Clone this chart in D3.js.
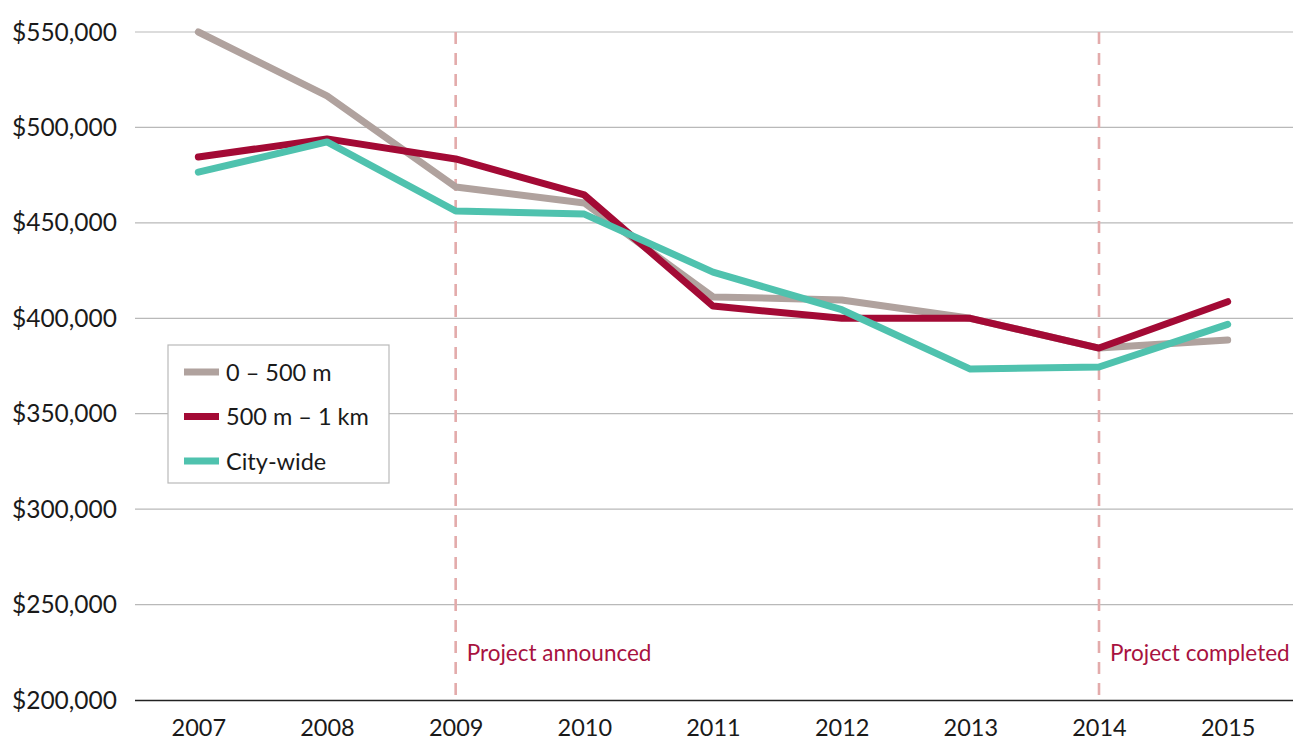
<!DOCTYPE html>
<html>
<head>
<meta charset="utf-8">
<script src="https://cdn.jsdelivr.net/npm/d3@7"></script>
<style>
  html, body { margin: 0; padding: 0; background: #fff; }
  svg { display: block; font-family: Lato, "Noto Sans", sans-serif; }
</style>
</head>
<body>
<svg id="chart" width="1293" height="742"></svg>
<script>
// Median house price by distance from the project, 2007–2015
const years = [2007, 2008, 2009, 2010, 2011, 2012, 2013, 2014, 2015];
const near = [550000, 516500, 468800, 460400, 411200, 409600, 400000, 384400, 388600];
const mid = [484500, 494000, 483500, 464600, 406400, 400000, 400000, 384400, 408700];
const city = [476600, 492400, 456200, 454600, 424200, 404500, 373400, 374500, 396800];
const seriesNames = ["0 – 500 m", "500 m – 1 km", "City-wide"];
const seriesColors = ["#b0a29e", "#a30a35", "#4fc2ae"];
const yTicks = [200000, 250000, 300000, 350000, 400000, 450000, 500000, 550000];
const events = [{ year: 2009, label: "Project announced" }, { year: 2014, label: "Project completed" }];

const series = [near, mid, city].map((vals, i) => ({
  name: seriesNames[i], color: seriesColors[i],
  points: years.map((y, j) => ({ year: y, value: vals[j] }))
}));

const svg = d3.select("#chart");
const plotLeft = 135, plotRight = 1293, plotTop = 32, plotBottom = 700;
const fontSize = 23.5;

const x = d3.scalePoint().domain(years).range([plotLeft - 1, plotRight - 1]).padding(0.5);
const y = d3.scaleLinear().domain([200000, 550000]).range([plotBottom, plotTop]);

// horizontal gridlines
svg.append("g").selectAll("line").data(yTicks.slice(1)).join("line")
  .attr("x1", plotLeft).attr("x2", plotRight)
  .attr("y1", d => y(d)).attr("y2", d => y(d))
  .attr("stroke", "#b9b9b9").attr("stroke-width", 1.2);

// y tick labels
const fmt = d3.format(",");
svg.append("g").selectAll("text").data(yTicks).join("text")
  .attr("x", 117).attr("y", d => y(d) + 8.5)
  .attr("text-anchor", "end")
  .attr("font-size", 24.5).attr("fill", "#1a1a1a")
  .text(d => "$" + fmt(d));

// event markers
const ev = svg.append("g");
ev.selectAll("line").data(events).join("line")
  .attr("x1", d => x(d.year)).attr("x2", d => x(d.year))
  .attr("y1", plotTop).attr("y2", plotBottom)
  .attr("stroke", "#e3abab").attr("stroke-width", 2.6)
  .attr("stroke-dasharray", "12,9");
ev.selectAll("text").data(events).join("text")
  .attr("x", d => x(d.year) + 11).attr("y", 661)
  .attr("font-size", 22.5).attr("fill", "#a8123f")
  .text(d => d.label);

// x axis
const xAxis = svg.append("g").attr("transform", `translate(0,${plotBottom})`)
  .call(d3.axisBottom(x).tickSize(0).tickPadding(16));
xAxis.select(".domain").attr("d", `M${plotLeft},0.5H${plotRight}`).attr("stroke", "#222").attr("stroke-width", 1.5);
xAxis.selectAll("text").attr("font-size", fontSize).attr("fill", "#1a1a1a")
  .attr("font-family", "Lato, 'Noto Sans', sans-serif").attr("dy", "0.85em");

// lines
const line = d3.line().x(d => x(d.year)).y(d => y(d.value));
svg.append("g").selectAll("path").data(series).join("path")
  .attr("d", d => line(d.points))
  .attr("fill", "none")
  .attr("stroke", d => d.color)
  .attr("stroke-width", 7)
  .attr("stroke-linecap", "round")
  .attr("stroke-linejoin", "round");

// legend
const lg = svg.append("g").attr("transform", "translate(168,345)");
lg.append("rect").attr("width", 221).attr("height", 138)
  .attr("fill", "#fff").attr("stroke", "#b9b9b9").attr("stroke-width", 1.2);
const items = lg.selectAll("g").data(series).join("g")
  .attr("transform", (d, i) => `translate(16,${27 + i * 44.5})`);
items.append("rect").attr("x", 0).attr("y", -3.5).attr("width", 35).attr("height", 7)
  .attr("fill", d => d.color);
items.append("text").attr("x", 42).attr("y", 8.5)
  .attr("font-size", fontSize).attr("fill", "#1a1a1a")
  .text(d => d.name);
</script>
</body>
</html>
